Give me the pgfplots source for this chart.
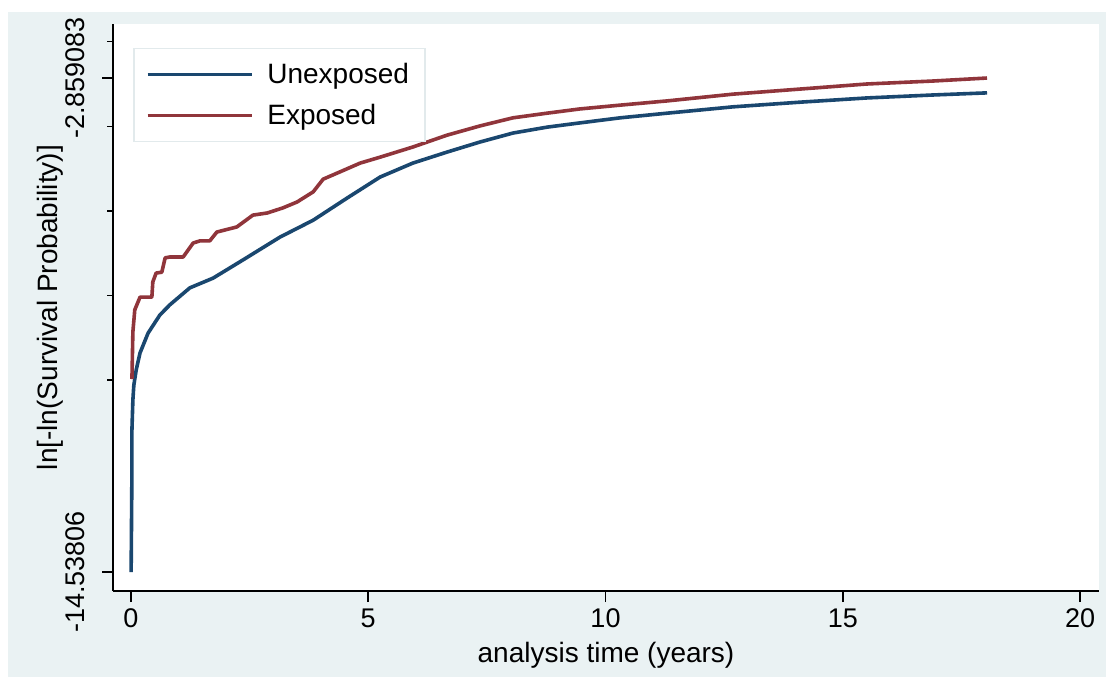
\documentclass[border=0pt]{standalone}
\usepackage{fontspec}
\setmainfont{Liberation Sans}
\usepackage{pgfplots}
\pgfplotsset{compat=1.18}
\definecolor{bg}{HTML}{EAF2F3}
\definecolor{unexp}{HTML}{1A476F}
\definecolor{expo}{HTML}{90353B}
\definecolor{lgborder}{HTML}{E2EAEC}
\begin{document}
\begin{tikzpicture}
\path[use as bounding box] (0pt,0pt) rectangle (553pt,338.5pt);
\fill[bg] (4pt,0pt) rectangle (553pt,332.5pt);
\begin{axis}[
  at={(56.5pt,43pt)}, anchor=south west,
  scale only axis, width=493pt, height=283.5pt,
  xmin=-0.379, xmax=20.40, ymin=-14.987, ymax=-1.582,
  axis x line*=bottom, axis y line*=left,
  axis line style={-, line width=1pt, black},
  axis background/.style={fill=white},
  xtick={0,5,10,15,20},
  ytick={-14.53806,-2.859083},
  yticklabels={\mbox{-14.53806},\mbox{-2.859083}},
  minor ytick={-10,-8,-6,-4,-2},
  tick align=outside,
  major tick length=5.5pt, minor tick length=3pt,
  every tick/.style={black, line width=0.75pt},
  /pgf/number format/assume math mode=true,
  xticklabel style={font=\fontsize{13.5}{15}\selectfont},
  yticklabel style={font=\fontsize{13.5}{15}\selectfont, rotate=90, anchor=south},
  yticklabel shift=5pt,
  label style={font=\fontsize{14}{16}\selectfont},
  ylabel style={at={(axis description cs:-0.064,0.5)}, anchor=center, rotate=0},
  xlabel={analysis time (years)},
  ylabel={ln[-ln(Survival Probability)]},
  legend style={at={(0.0203,0.9577)}, anchor=north west, draw=lgborder, line width=0.75pt,
    font=\fontsize{14}{16}\selectfont, inner xsep=6pt, inner ysep=5pt, row sep=5pt,
    cells={anchor=west}},
  legend image code/.code={\draw[#1] (0pt,0pt) -- (52pt,0pt); \path (57pt,0pt);},
]
\addplot[unexp, line width=1.8pt, line join=round] coordinates {
(0.003,-14.538) (0.02,-12.13) (0.02,-11.18) (0.04,-10.47) (0.06,-10.12) (0.11,-9.76)
(0.19,-9.36) (0.36,-8.89) (0.61,-8.46) (0.82,-8.22) (1.24,-7.82) (1.73,-7.59)
(2.36,-7.16) (3.14,-6.62) (3.84,-6.22) (4.55,-5.70) (5.25,-5.20) (5.94,-4.87)
(6.66,-4.61) (7.36,-4.37) (8.05,-4.16) (8.77,-4.02) (9.46,-3.92) (10.31,-3.80)
(11.30,-3.69) (12.69,-3.54) (14.10,-3.43) (15.51,-3.33) (16.90,-3.26) (18.04,-3.21)
};
\addlegendentry{Unexposed}
\addplot[expo, line width=1.8pt, line join=round] coordinates {
(0.02,-9.975) (0.04,-8.86) (0.08,-8.34) (0.19,-8.04) (0.44,-8.04) (0.46,-7.68)
(0.53,-7.47) (0.65,-7.45) (0.72,-7.11) (0.82,-7.09) (1.10,-7.09) (1.31,-6.76)
(1.45,-6.71) (1.66,-6.71) (1.81,-6.50) (2.23,-6.38) (2.57,-6.10) (2.87,-6.05)
(3.20,-5.93) (3.50,-5.79) (3.84,-5.55) (4.05,-5.25) (4.40,-5.08) (4.83,-4.87)
(5.25,-4.73) (5.94,-4.49) (6.66,-4.21) (7.36,-3.99) (8.05,-3.80) (8.77,-3.69)
(9.46,-3.59) (10.31,-3.50) (11.30,-3.40) (12.69,-3.24) (14.10,-3.12) (15.51,-3.00)
(16.90,-2.93) (18.04,-2.859083)
};
\addlegendentry{Exposed}
\end{axis}
\end{tikzpicture}
\end{document}
